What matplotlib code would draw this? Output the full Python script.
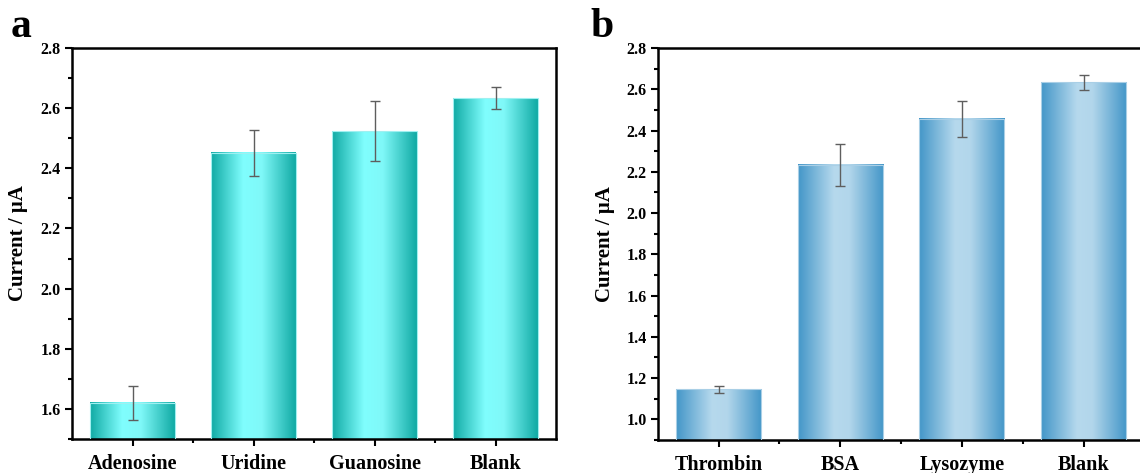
import numpy as np
import matplotlib
matplotlib.use("Agg")
import matplotlib.pyplot as plt
from matplotlib.colors import LinearSegmentedColormap
from matplotlib.ticker import MultipleLocator, FixedLocator

plt.rcParams['font.family'] = ['Liberation Serif', 'DejaVu Serif']
plt.rcParams['font.weight'] = 'bold'

# ---- data ----
cats_a = ["Adenosine", "Uridine", "Guanosine", "Blank"]
vals_a = [1.62, 2.451, 2.524, 2.633]
errs_a = [0.056, 0.075, 0.101, 0.037]

cats_b = ["Thrombin", "BSA", "Lysozyme", "Blank"]
vals_b = [1.145, 2.233, 2.456, 2.633]
errs_b = [0.017, 0.103, 0.088, 0.037]

ylim_a = (1.5, 2.8)
ylim_b = (0.9, 2.8)

cmap_a = LinearSegmentedColormap.from_list(
    "cy", [(0.0, "#10aaa4"), (0.38, "#80fefe"), (0.6, "#7ff8f8"), (1.0, "#10aaa4")])
cmap_b = LinearSegmentedColormap.from_list(
    "bl", [(0.0, "#4396c8"), (0.42, "#b6d9ed"), (0.6, "#b2d6eb"), (1.0, "#4396c8")])

fig = plt.figure(figsize=(11.40, 4.73), dpi=100)
ax_a = fig.add_axes([0.0632, 0.0719, 0.4246, 0.8266])
ax_b = fig.add_axes([0.5769, 0.0698, 0.4270, 0.8287])


def draw(ax, cats, vals, errs, ylim, cmap, edge, letter, lx, ly, right_spine=True):
    x = np.arange(1, len(cats) + 1)
    bars = ax.bar(x, vals, width=0.7, color="none", edgecolor=edge, linewidth=0.8, zorder=3)
    grad = np.linspace(0, 1, 256).reshape(1, -1)
    for b in bars:
        x0 = b.get_x()
        w = b.get_width()
        h = b.get_height()
        ax.imshow(grad, cmap=cmap, aspect="auto",
                  extent=(x0, x0 + w, ylim[0], h), zorder=2, interpolation="bilinear")
    ax.errorbar(x, vals, yerr=errs, fmt="none", ecolor="#5e5e5e", elinewidth=1.0,
                capsize=3.5, capthick=1.0, zorder=4)
    ax.set_xlim(0.5, len(cats) + 0.5)
    ax.set_ylim(*ylim)
    ax.set_xticks(x)
    ax.set_xticklabels(cats, fontsize=14.5, fontweight="bold")
    ax.xaxis.set_minor_locator(FixedLocator(x[:-1] + 0.5))
    ax.yaxis.set_major_locator(MultipleLocator(0.2))
    ax.yaxis.set_minor_locator(MultipleLocator(0.1))
    ax.yaxis.set_major_formatter(matplotlib.ticker.FormatStrFormatter("%.1f"))
    for lbl in ax.get_yticklabels():
        lbl.set_fontweight("bold")
        lbl.set_fontsize(11.5)
    ax.tick_params(axis="both", which="major", direction="out", length=5, width=1.5)
    ax.tick_params(axis="both", which="minor", direction="out", length=3, width=1.5)
    ax.tick_params(axis="x", pad=6)
    ax.tick_params(axis="y", pad=3, labelsize=11.5)
    for s in ax.spines.values():
        s.set_linewidth(1.8)
    ax.spines["right"].set_visible(right_spine)
    ax.set_ylabel("Current / \u03bcA", fontsize=15, fontweight="bold")
    fig.text(lx, ly, letter, fontsize=30, fontweight="bold", ha="left", va="baseline")


draw(ax_a, cats_a, vals_a, errs_a, ylim_a, cmap_a, "#9ff0f0", "a", 0.009, 0.922)
draw(ax_b, cats_b, vals_b, errs_b, ylim_b, cmap_b, "#a9cfe6", "b", 0.518, 0.922)
ax_a.yaxis.set_label_coords(-0.090, 0.5)
ax_b.yaxis.set_label_coords(-0.088, 0.5)

fig.savefig("out.png", dpi=100)
